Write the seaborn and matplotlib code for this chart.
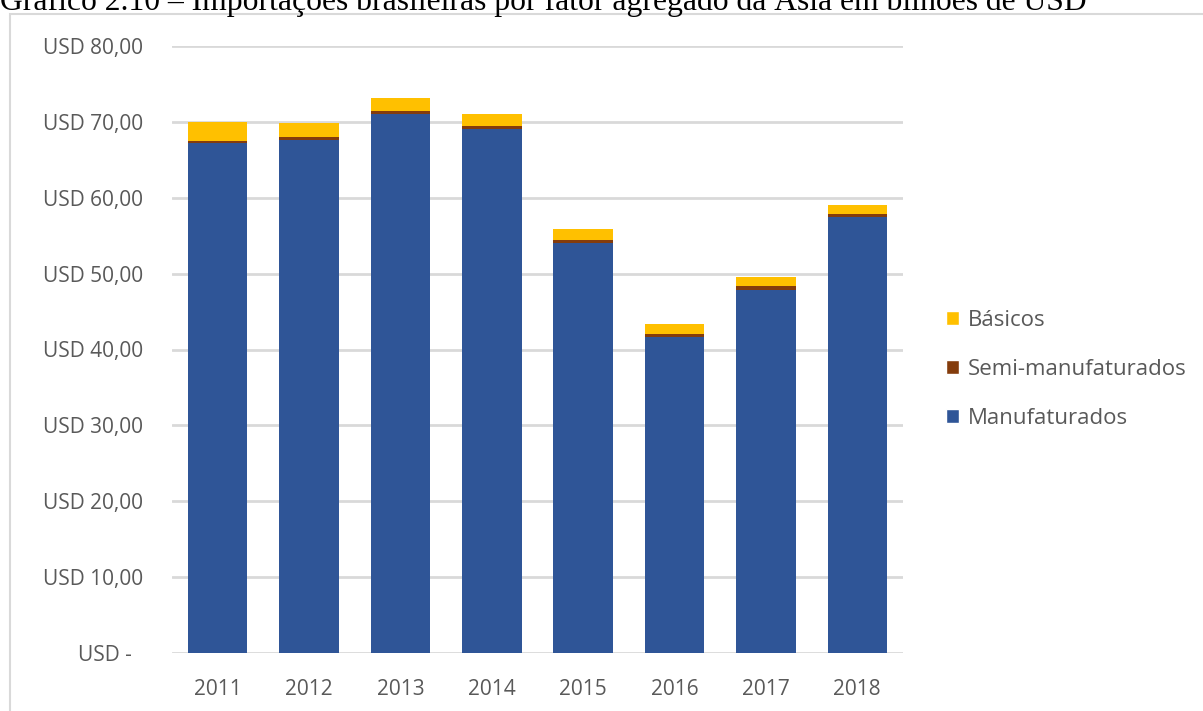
import matplotlib
matplotlib.use("Agg")
import matplotlib.pyplot as plt
from matplotlib.patches import Rectangle, Patch
import seaborn as sns
import pandas as pd

# Importações brasileiras da Ásia por fator agregado (bilhões de USD)
anos = ["2011", "2012", "2013", "2014", "2015", "2016", "2017", "2018"]
manufaturados = [67.2, 67.6, 71.1, 69.0, 54.0, 41.7, 47.9, 57.4]
semi_manufaturados = [0.3, 0.4, 0.3, 0.5, 0.4, 0.3, 0.5, 0.4]
basicos = [2.5, 1.8, 1.8, 1.6, 1.5, 1.3, 1.2, 1.3]

ytick_vals = [0, 10, 20, 30, 40, 50, 60, 70, 80]
ytick_labels = ["USD -  ", "USD 10,00", "USD 20,00", "USD 30,00", "USD 40,00",
                "USD 50,00", "USD 60,00", "USD 70,00", "USD 80,00"]

titulo = "Gráfico 2.10 – Importações brasileiras por fator agregado da Ásia em bilhões de USD"

cor_manuf = "#2F5597"
cor_semi = "#843C0C"
cor_bas = "#FFC000"
cor_texto = "#595959"
cor_grade = "#D9D9D9"

sns.set_theme(style="white")
plt.rcParams["font.family"] = ["Open Sans", "DejaVu Sans"]

df = pd.DataFrame({
    "ano": anos,
    "manuf": manufaturados,
    "semi": semi_manufaturados,
    "bas": basicos,
})
df["ate_semi"] = df["manuf"] + df["semi"]
df["total"] = df["ate_semi"] + df["bas"]

W, H = 1203, 711
fig = plt.figure(figsize=(W / 100, H / 100), dpi=100)
ax = fig.add_axes([172 / W, 1 - 653 / H, (903 - 172) / W, (653 - 46) / H])

# stacked bars drawn as overlapping cumulative totals
for col, cor in [("total", cor_bas), ("ate_semi", cor_semi), ("manuf", cor_manuf)]:
    sns.barplot(data=df, x="ano", y=col, color=cor, width=0.65,
                saturation=1, linewidth=0, edgecolor="none", ax=ax, zorder=3)

ax.set_ylim(0, 80)
ax.set_xlim(-0.5, len(anos) - 0.5)
ax.set_yticks(ytick_vals)
ax.set_yticklabels(ytick_labels)
ax.set_xlabel("")
ax.set_ylabel("")
ax.yaxis.grid(True, color=cor_grade, linewidth=2, zorder=0)
ax.set_axisbelow(True)
for s in ax.spines.values():
    s.set_visible(False)
ax.tick_params(axis="y", length=0, pad=21, labelsize=15, labelcolor=cor_texto)
ax.tick_params(axis="x", length=0, pad=19, labelsize=15, labelcolor=cor_texto)

handles = [Patch(facecolor=cor_bas, label="Básicos"),
           Patch(facecolor=cor_semi, label="Semi-manufaturados"),
           Patch(facecolor=cor_manuf, label="Manufaturados")]
leg = fig.legend(handles=handles, loc="center left",
                 bbox_to_anchor=(946 / W, 1 - 369.5 / H), frameon=False,
                 fontsize=16, labelcolor=cor_texto, handlelength=0.6,
                 handleheight=0.6, handletextpad=0.4, labelspacing=1.27,
                 borderaxespad=0, borderpad=0)

# chart area frame
fig.patches.append(Rectangle((10 / W, -0.1), 1.2, 1 - 14 / H + 0.1,
                             transform=fig.transFigure, fill=False,
                             edgecolor=cor_grade, linewidth=1.5))

fig.text(0, 1 - 10 / H, titulo, family="Liberation Serif", fontsize=22.8,
         color="black", va="baseline", ha="left")

fig.savefig("out.png", dpi=100, facecolor="white")
